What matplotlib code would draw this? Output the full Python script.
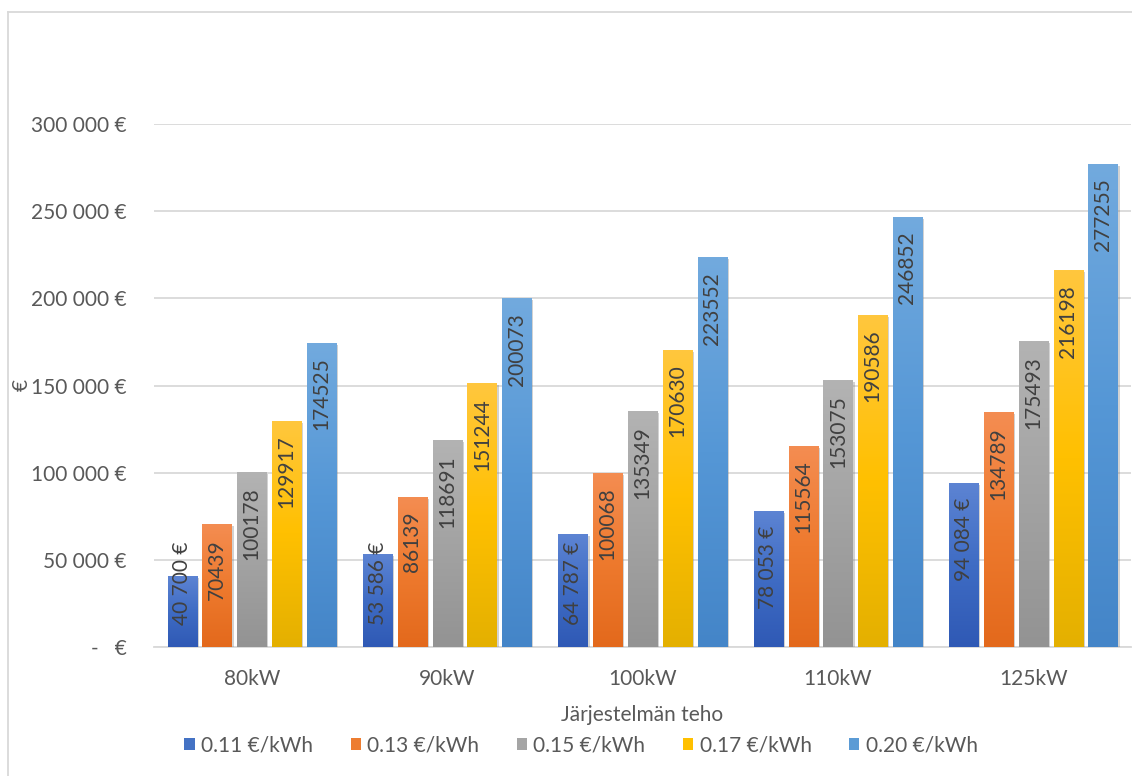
import numpy as np
import matplotlib.pyplot as plt
from matplotlib.colors import LinearSegmentedColormap
from matplotlib.patches import Patch
from matplotlib.lines import Line2D
import matplotlib.patheffects as pe

plt.rcParams['font.family'] = ['Lato', 'DejaVu Sans']

# system size categories
categories = ["80kW", "90kW", "100kW", "110kW", "125kW"]
series_names = ["0.11 €/kWh", "0.13 €/kWh", "0.15 €/kWh", "0.17 €/kWh", "0.20 €/kWh"]

s011 = [40700, 53586, 64787, 78053, 94084]
s013 = [70439, 86139, 100068, 115564, 134789]
s015 = [100178, 118691, 135349, 153075, 175493]
s017 = [129917, 151244, 170630, 190586, 216198]
s020 = [174525, 200073, 223552, 246852, 277255]
series = [s011, s013, s015, s017, s020]

yticks = [0, 50000, 100000, 150000, 200000, 250000, 300000]

# top / middle / bottom colours of each bar gradient
grads = [
    ("#5d84d3", "#3f6cc4", "#2f59b5"),
    ("#f48d52", "#ee7a2e", "#e3691c"),
    ("#b3b3b3", "#a3a3a3", "#939393"),
    ("#ffc73e", "#ffc000", "#e4b000"),
    ("#72aade", "#5597d6", "#4485c8"),
]
base_cols = ["#4472c4", "#ed7d31", "#a5a5a5", "#ffc000", "#5b9bd5"]

W, H = 1132, 776
fig = plt.figure(figsize=(W / 100, H / 100), dpi=100)
ax = fig.add_axes([154 / W, 129 / H, (1131 - 154) / W, (647 - 124) / H])

# outer chart border
fig.add_artist(Line2D([8 / W, 8 / W], [0, 1 - 12 / H], color="#d9d9d9", lw=1.3))
fig.add_artist(Line2D([8 / W, 1], [1 - 12 / H, 1 - 12 / H], color="#d9d9d9", lw=1.3))

x = np.arange(len(categories))
pitch = 0.178
width = 0.149

labels = []
for j, vals in enumerate(series):
    cmap = LinearSegmentedColormap.from_list("g%d" % j, [grads[j][2], grads[j][1], grads[j][0]])
    offs = (j - 2) * pitch
    bars = ax.bar(x + offs, vals, width, facecolor="none", edgecolor="none", zorder=3,
                  path_effects=[pe.SimplePatchShadow(offset=(1.5, -1.5), shadow_rgbFace="#808080", alpha=0.35)])
    for k, b in enumerate(bars):
        v = vals[k]
        grad = np.linspace(0, 1, 256).reshape(-1, 1)
        im = ax.imshow(grad, cmap=cmap, origin="lower", aspect="auto",
                       extent=[b.get_x(), b.get_x() + width, 0, v], zorder=4)
        im.set_clip_path(b)
        if j == 0:
            txt = f"{v:,}".replace(",", " ") + " €"
        else:
            txt = str(v)
        t = ax.annotate(txt, (x[k] + offs, v), xytext=(0, -15), textcoords="offset pixels",
                        rotation=90, ha="center", va="top", fontsize=15, color="#404040", zorder=6)
        labels.append((t, x[k] + offs))

ax.set_xlim(-0.5, len(categories) - 0.5)
ax.set_ylim(0, 300000)
ax.set_yticks(yticks)
ax.set_yticklabels(["-   €" if v == 0 else f"{v:,}".replace(",", " ") + " €" for v in yticks])
ax.set_xticks(x)
ax.set_xticklabels(categories)
ax.tick_params(axis="both", length=0, labelsize=15, labelcolor="#595959")
ax.tick_params(axis="y", pad=19.5)
ax.tick_params(axis="x", pad=16)
ax.grid(axis="y", color="#d9d9d9", lw=1.3, zorder=0)
ax.set_axisbelow(True)
for s in ["top", "right", "left"]:
    ax.spines[s].set_visible(False)
ax.spines["bottom"].set_color("#d9d9d9")
ax.spines["bottom"].set_linewidth(1.3)

# short bars: push label up from the base so it stays readable
fig.canvas.draw()
base_px = ax.transData.transform((0, 0))[1]
for t, xp in labels:
    bb = t.get_window_extent()
    if bb.y0 < base_px + 22:
        t.xy = (xp, 0)
        t.set_position((0, 22))
        t.set_va("bottom")

fig.text(22 / W, 1 - 385 / H, "€", rotation=90, ha="center", va="center", fontsize=15, color="#595959")
fig.text(642 / W, 1 - 715 / H, "Järjestelmän teho", ha="center", va="center", fontsize=15, color="#595959")

handles = [Patch(facecolor=c, edgecolor="none") for c in base_cols]
fig.legend(handles, series_names, loc="center", bbox_to_anchor=(581 / W, 1 - 745 / H), ncol=5,
           frameon=False, fontsize=15, labelcolor="#595959", handlelength=0.5, handleheight=0.5,
           handletextpad=0.3, columnspacing=1.8)

fig.savefig("out.png", dpi=100)
